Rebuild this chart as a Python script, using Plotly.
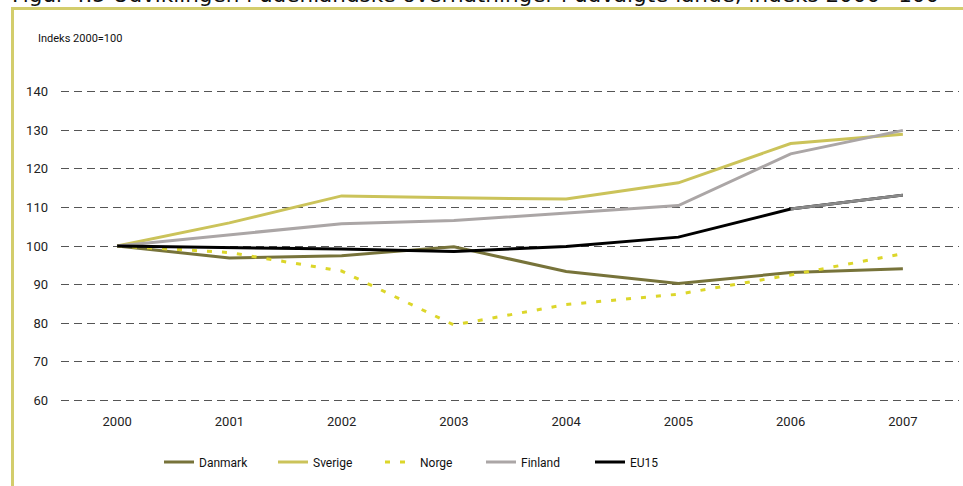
import plotly.graph_objects as go

years = ["2000", "2001", "2002", "2003", "2004", "2005", "2006", "2007"]
danmark = [100, 96.9, 97.5, 99.8, 93.4, 90.3, 93.1, 94.1]
sverige = [100, 106.0, 113.0, 112.5, 112.2, 116.4, 126.6, 129.0]
norge = [100, 98.3, 93.5, 79.5, 84.8, 87.5, 92.5, 98.0]
finland = [100, 102.9, 105.8, 106.6, 108.5, 110.5, 123.9, 130.0]
eu15 = [100, 99.6, 99.2, 98.6, 99.9, 102.3, 109.6, 113.2]

FONT = "Liberation Sans Narrow, Roboto, Arial Narrow, sans-serif"
FRAME = "#d3cd6c"

# plot area in pixels
L, R, T, B = 61, 959, 88, 404
W, H = R - L, B - T


def px_x(x):
    return (x - L) / W


def px_y(y):
    return (B - y) / H


fig = go.Figure()

# name, values, colour, dash, legend left edge (px)
series = [
    ("Danmark", danmark, "#77733a", "solid", 159),
    ("Sverige", sverige, "#cbc35a", "solid", 273),
    ("Norge", norge, "#dcd62a", "5px,10px", 380),
    ("Finland", finland, "#aba6a6", "solid", 481),
    ("EU15", eu15, "#000000", "solid", 590),
]
legends = {}
for i, (name, vals, color, dash, lx) in enumerate(series):
    key = "legend" if i == 0 else f"legend{i + 1}"
    fig.add_trace(go.Scatter(
        x=years, y=vals, mode="lines", name=name, legend=key,
        line=dict(color=color, width=3, dash=dash),
    ))
    legends[key] = dict(
        orientation="h", x=px_x(lx), y=px_y(462), xanchor="left", yanchor="middle",
        font=dict(family=FONT, size=12, color="#111111"),
        bgcolor="rgba(0,0,0,0)",
    )

# last EU15 segment is drawn in grey in the original
fig.add_trace(go.Scatter(
    x=years[-2:], y=eu15[-2:], mode="lines", showlegend=False,
    line=dict(color="#8a8a8a", width=3),
))

fig.update_layout(
    width=963, height=486,
    margin=dict(l=L, r=963 - R, t=T, b=486 - B),
    paper_bgcolor="white", plot_bgcolor="white",
    font=dict(family=FONT, size=13, color="#222222"),
    showlegend=True,
    **legends,
    shapes=[
        dict(type="line", xref="paper", yref="paper",
             x0=px_x(11), x1=px_x(963), y0=px_y(8.5), y1=px_y(8.5),
             line=dict(color=FRAME, width=3)),
        dict(type="line", xref="paper", yref="paper",
             x0=px_x(12.5), x1=px_x(12.5), y0=px_y(7), y1=px_y(486),
             line=dict(color=FRAME, width=3)),
    ],
    annotations=[
        # the chart title is cropped at the top edge in the source image
        dict(text="Figur 4.5 Udviklingen i udenlandske overnatninger i udvalgte lande, indeks 2000=100",
             xref="paper", yref="paper", x=px_x(10), y=px_y(9),
             xanchor="left", yanchor="bottom", showarrow=False,
             font=dict(family="DejaVu Sans", size=21.5, color="#111111")),
        dict(text="Indeks 2000=100", xref="paper", yref="paper",
             x=px_x(36), y=px_y(38), xanchor="left", yanchor="middle",
             showarrow=False, font=dict(family=FONT, size=11, color="#111111")),
    ],
)

fig.update_xaxes(
    type="category", range=[-0.5, 7.5], showgrid=False, showline=False,
    ticks="", ticklabelstandoff=8, zeroline=False,
)
fig.update_yaxes(
    range=[59, 141], tickvals=[60, 70, 80, 90, 100, 110, 120, 130, 140],
    showgrid=True, gridcolor="#555555", gridwidth=1, griddash="8px,5px",
    zeroline=False, showline=False, ticks="", ticklabelstandoff=12,
)

fig.write_html("out.html", config={"displayModeBar": False},
               post_script="document.body.style.margin='0';")
